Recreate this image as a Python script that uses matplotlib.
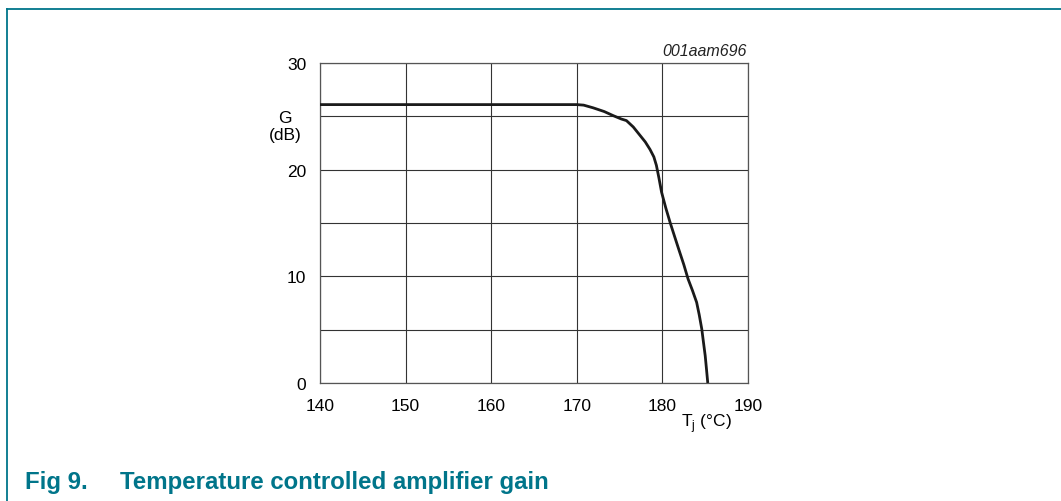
import matplotlib
matplotlib.use("Agg")
import matplotlib.pyplot as plt
from matplotlib.lines import Line2D

# Data
tj = [140, 150, 160, 170, 170.8, 171.9, 173.2, 174.3, 175.2, 175.8, 176.6, 177.4,
      178.0, 178.55, 179.0, 179.3, 179.6, 179.9, 180.4, 180.9, 181.4, 181.9,
      182.5, 183.0, 183.5, 184.0, 184.3, 184.6, 184.8, 185.0, 185.15, 185.3]
gain = [26.1, 26.1, 26.1, 26.1, 26.05, 25.8, 25.45, 25.05, 24.75, 24.6, 24.0, 23.2,
        22.6, 21.9, 21.2, 20.4, 19.2, 17.9, 16.4, 15.05, 13.8, 12.56,
        11.1, 9.75, 8.7, 7.56, 6.4, 5.06, 3.8, 2.56, 1.3, 0.0]

xticks = [140, 150, 160, 170, 180, 190]
yticks = [0, 10, 20, 30]
yminor = [5, 15, 25]

teal = "#00758A"
plt.rcParams['font.family'] = ['Liberation Sans', 'DejaVu Sans']

fig = plt.figure(figsize=(10.61, 5.02), dpi=100)
ax = fig.add_axes([320/1061, 1-384/502, 428/1061, 320/502])

ax.plot(tj, gain, color="#1a1a1a", lw=2.0, solid_capstyle='butt', zorder=3)
ax.set_xlim(140, 190)
ax.set_ylim(0, 30)
ax.set_xticks(xticks)
ax.set_yticks(yticks)
ax.set_yticks(yminor, minor=True)
ax.tick_params(which='both', length=0, labelsize=12.5)
ax.tick_params(axis='x', pad=11)
ax.tick_params(axis='y', pad=10)
ax.grid(True, which='both', color="#333333", lw=0.8)
for s in ax.spines.values():
    s.set_color("#555555")
    s.set_linewidth(0.9)

fig.text(747/1061, 1-52/502, "001aam696", ha='right', va='center',
         fontsize=11.5, style='italic', color='#222222')
fig.text(285/1061, 1-127/502, "G\n(dB)", ha='center', va='center',
         fontsize=12.5, linespacing=1.15)
fig.text(706/1061, 1-424/502, r"T$_\mathregular{j}$ (°C)", ha='center', va='center',
         fontsize=12.5)

fig.text(25/1061, 1-483/502, "Fig 9.", ha='left', va='center',
         fontsize=17.3, fontweight='bold', color=teal)
fig.text(120/1061, 1-483/502, "Temperature controlled amplifier gain", ha='left',
         va='center', fontsize=17.3, fontweight='bold', color=teal)

# frame lines
fig.add_artist(Line2D([7/1061, 7/1061], [0, 1-10/502], transform=fig.transFigure,
                      color=teal, lw=1.3))
fig.add_artist(Line2D([7/1061, 1], [1-10/502, 1-10/502], transform=fig.transFigure,
                      color=teal, lw=1.3))

fig.savefig("out.png", dpi=100)
